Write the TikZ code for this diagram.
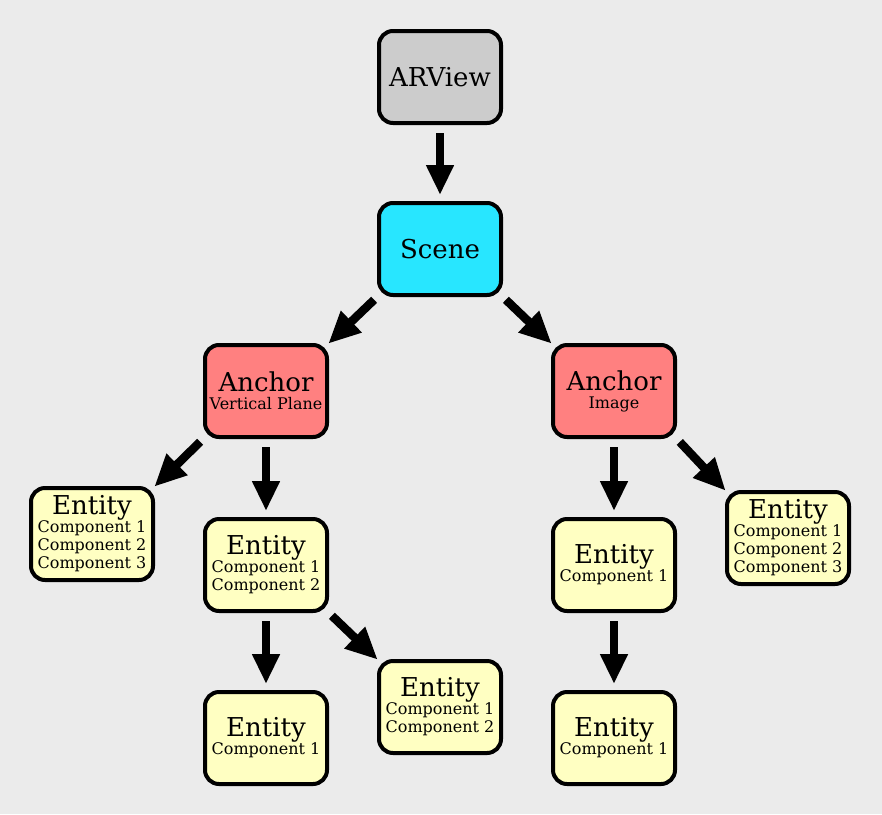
\documentclass[tikz,border=0pt]{standalone}
\usepackage{fontspec}
\setmainfont{DejaVu Serif}
\usetikzlibrary{arrows.meta, positioning}

\definecolor{bggray}{HTML}{EBEBEB}
\definecolor{viewgray}{HTML}{CCCCCC}
\definecolor{scenecyan}{HTML}{28E6FF}
\definecolor{anchorred}{HTML}{FF8080}
\definecolor{entityyellow}{HTML}{FFFFC2}

\newcommand{\boxtitle}[1]{{\fontsize{26}{26}\selectfont #1}}

\begin{document}
\begin{tikzpicture}[x=1pt, y=-1pt,
            box/.style={draw, line width=4pt, rounded corners=14pt, minimum width=122pt, minimum height=92pt,
                        align=center, inner sep=2pt, font=\fontsize{16}{18}\selectfont},
            view/.style={box, fill=viewgray},
            scenebox/.style={box, fill=scenecyan},
            anchorbox/.style={box, fill=anchorred},
            entity/.style={box, fill=entityyellow},
            link/.style={line width=8pt, -{Triangle[length=30pt, width=26pt]}, shorten <=8pt, shorten >=6pt},
            corner link/.style={link, line width=8.5pt, -{Triangle[length=32pt, width=28pt]}, shorten <=4pt, shorten >=-1pt}]

            % Background
            \fill[bggray] (0,0) rectangle (882,814);
            \useasboundingbox (0,0) rectangle (882,814);

            % Top of the tree
            \node[view] (arview) at (440,77) {\boxtitle{ARView}};
            \node[scenebox, below=76pt of arview] (scene) {\boxtitle{Scene}};

            % Anchors
            \node[anchorbox] (anchorplane) at (266,391) {\boxtitle{Anchor}\\Vertical Plane};
            \node[anchorbox] (anchorimage) at (614,391) {\boxtitle{Anchor}\\Image};

            % Entities under the plane anchor
            \node[entity] (entplaneA) at (92,534) {\boxtitle{Entity}\\Component 1\\Component 2\\Component 3};
            \node[entity, below=78pt of anchorplane] (entplaneB) {\boxtitle{Entity}\\Component 1\\Component 2};
            \node[entity, below=77pt of entplaneB] (entplaneC) {\boxtitle{Entity}\\Component 1};
            \node[entity] (entplaneD) at (440,707) {\boxtitle{Entity}\\Component 1\\Component 2};

            % Entities under the image anchor
            \node[entity, below=78pt of anchorimage] (entimageA) {\boxtitle{Entity}\\Component 1};
            \node[entity, below=77pt of entimageA] (entimageB) {\boxtitle{Entity}\\Component 1};
            \node[entity] (entimageC) at (788,538) {\boxtitle{Entity}\\Component 1\\Component 2\\Component 3};

            % Connectors
            \draw[link] (arview) -- (scene);
            \draw[corner link] (scene.south west) -- (anchorplane.north east);
            \draw[corner link] (scene.south east) -- (anchorimage.north west);

            \draw[corner link] (anchorplane.south west) -- (entplaneA.north east);
            \draw[link] (anchorplane) -- (entplaneB);
            \draw[link] (entplaneB) -- (entplaneC);
            \draw[corner link] (entplaneB.south east) -- (entplaneD.north west);

            \draw[link] (anchorimage) -- (entimageA);
            \draw[link] (entimageA) -- (entimageB);
            \draw[corner link] (anchorimage.south east) -- (entimageC.north west);
        \end{tikzpicture}
\end{document}
